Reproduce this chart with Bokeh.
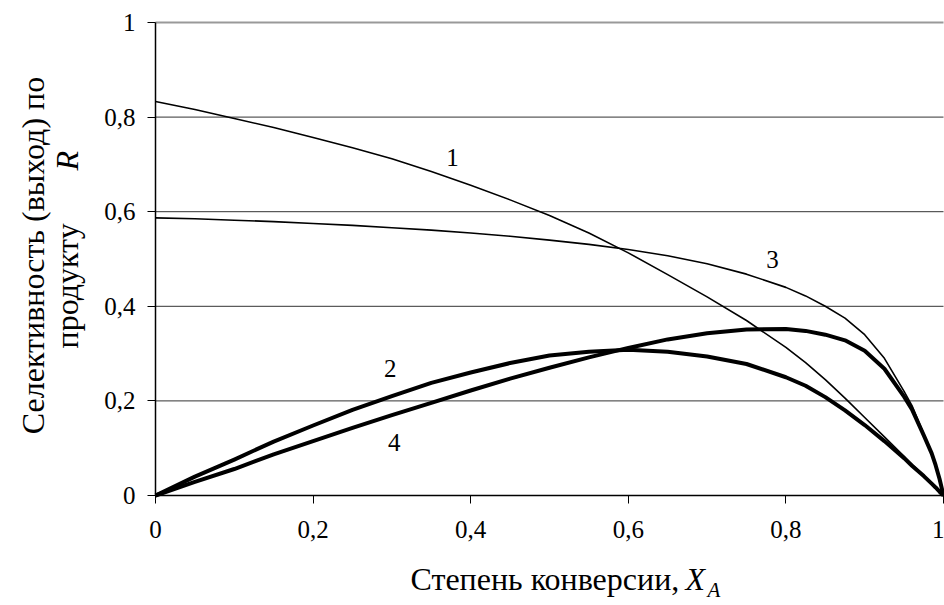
from math import pi
from bokeh.plotting import figure
from bokeh.models import FixedTicker, Label, Range1d
from bokeh.embed import file_html
from bokeh.resources import INLINE

# ---- data ----
conversion = [0.0, 0.05, 0.1, 0.15, 0.2, 0.25, 0.3, 0.35, 0.4, 0.45, 0.5, 0.55, 0.6, 0.65,
              0.7, 0.75, 0.8, 0.825, 0.85, 0.875, 0.9, 0.925, 0.95, 0.96, 0.975, 0.985,
              0.99, 0.995, 1.0]
curve1 = [0.833, 0.816, 0.797, 0.778, 0.757, 0.735, 0.712, 0.685, 0.656, 0.625, 0.592,
          0.555, 0.513, 0.467, 0.420, 0.370, 0.313, 0.281, 0.245, 0.206, 0.165, 0.124,
          0.083, 0.066, 0.042, 0.025, 0.017, 0.008, 0.0]
curve2 = [0.0, 0.040, 0.076, 0.114, 0.148, 0.181, 0.210, 0.238, 0.260, 0.280, 0.296,
          0.304, 0.308, 0.304, 0.294, 0.278, 0.250, 0.232, 0.208, 0.180, 0.149, 0.115,
          0.079, 0.063, 0.041, 0.025, 0.017, 0.008, 0.0]
curve3 = [0.587, 0.585, 0.582, 0.579, 0.575, 0.571, 0.566, 0.561, 0.555, 0.548, 0.540,
          0.531, 0.520, 0.507, 0.490, 0.468, 0.440, 0.422, 0.400, 0.375, 0.340, 0.290,
          0.220, 0.190, 0.130, 0.090, 0.065, 0.035, 0.0]
curve4 = [0.0, 0.029, 0.056, 0.087, 0.115, 0.143, 0.170, 0.196, 0.222, 0.247, 0.270,
          0.292, 0.312, 0.330, 0.343, 0.351, 0.352, 0.348, 0.340, 0.328, 0.306, 0.268,
          0.209, 0.182, 0.127, 0.089, 0.064, 0.035, 0.0]
curve_names = ["1", "2", "3", "4"]
tick_values = [0.0, 0.2, 0.4, 0.6, 0.8, 1.0]
tick_labels = ["0", "0,2", "0,4", "0,6", "0,8", "1"]
grid_values = [0.2, 0.4, 0.6, 0.8]
x_title = "Степень конверсии, "
x_title_var = "X"
x_title_sub = "A"
y_title_1 = "Селективность (выход) по"
y_title_2 = "продукту "
y_title_var = "R"

FONT = "'Liberation Serif', 'Times New Roman', serif"

# the frame covers the whole canvas; axes are pinned at the origin
p = figure(width=944, height=605, output_backend="svg", toolbar_location=None,
           x_range=Range1d(-155 / 788, 789 / 788), y_range=Range1d(-110 / 473, 495 / 473),
           min_border_left=0, min_border_right=0, min_border_top=0, min_border_bottom=0)
p.outline_line_color = None
p.background_fill_color = "white"
p.border_fill_color = "white"
p.grid.visible = False

for ax in (p.xaxis[0], p.yaxis[0]):
    ax.fixed_location = 0
    ax.bounds = (0, 1)
    ax.ticker = FixedTicker(ticks=tick_values)
    ax.major_label_overrides = dict(zip(tick_values, tick_labels))
    ax.major_label_text_font = FONT
    ax.major_label_text_font_size = "25px"
    ax.major_label_text_color = "black"
    ax.axis_line_color = "black"
    ax.axis_line_width = 1.5
    ax.major_tick_line_color = "black"
    ax.major_tick_line_width = 1
    ax.major_tick_out = 8
    ax.major_tick_in = 0
    ax.minor_tick_out = 0
    ax.minor_tick_in = 0
p.yaxis.major_label_standoff = 12
p.xaxis.major_label_standoff = 17
p.yaxis.major_label_orientation = "horizontal"

# horizontal gridlines across the data area, plus the grey top border at 1
p.segment(x0=[0.0] * len(grid_values), x1=[1.0] * len(grid_values),
          y0=grid_values, y1=grid_values, line_color="#333333", line_width=1, level="underlay")
p.segment(x0=[0.0], x1=[1.0], y0=[1.0], y1=[1.0], line_color="#999999", line_width=2,
          level="underlay")

p.line(conversion, curve1, line_color="black", line_width=1.6, line_join="round")
p.line(conversion, curve3, line_color="black", line_width=1.6, line_join="round")
p.line(conversion, curve2, line_color="black", line_width=4, line_join="round")
p.line(conversion, curve4, line_color="black", line_width=4, line_join="round")

label_pos = {"1": (0.377, 0.715), "2": (0.298, 0.268), "3": (0.783, 0.50), "4": (0.303, 0.112)}
for name in curve_names:
    lx, ly = label_pos[name]
    p.add_layout(Label(x=lx, y=ly, text=name, text_font=FONT, text_font_size="25px",
                       text_align="center", text_baseline="middle", text_color="black"))

# axis titles
p.add_layout(Label(x=0.3236, y=-0.1755, text=x_title,
                   text_font=FONT, text_font_size="32px", text_align="left",
                   text_baseline="alphabetic", text_color="black"))
p.add_layout(Label(x=0.6726, y=-0.1755, text=x_title_var,
                   text_font=FONT, text_font_style="italic", text_font_size="32px",
                   text_align="left", text_baseline="alphabetic", text_color="black"))
p.add_layout(Label(x=0.7005, y=-0.1990, text=x_title_sub,
                   text_font=FONT, text_font_style="italic", text_font_size="21px",
                   text_align="left", text_baseline="alphabetic", text_color="black"))

p.add_layout(Label(x=-0.155, y=0.5074, text=y_title_1,
                   text_font=FONT, text_font_size="32px", angle=pi / 2,
                   text_align="center", text_baseline="alphabetic", text_color="black"))
p.add_layout(Label(x=-0.112, y=0.3108, text=y_title_2,
                   text_font=FONT, text_font_size="32px", angle=pi / 2,
                   text_align="left", text_baseline="alphabetic", text_color="black"))
p.add_layout(Label(x=-0.112, y=0.687, text=y_title_var,
                   text_font=FONT, text_font_style="italic", text_font_size="32px", angle=pi / 2,
                   text_align="left", text_baseline="alphabetic", text_color="black"))

open("out.html", "w").write(file_html(p, INLINE))
